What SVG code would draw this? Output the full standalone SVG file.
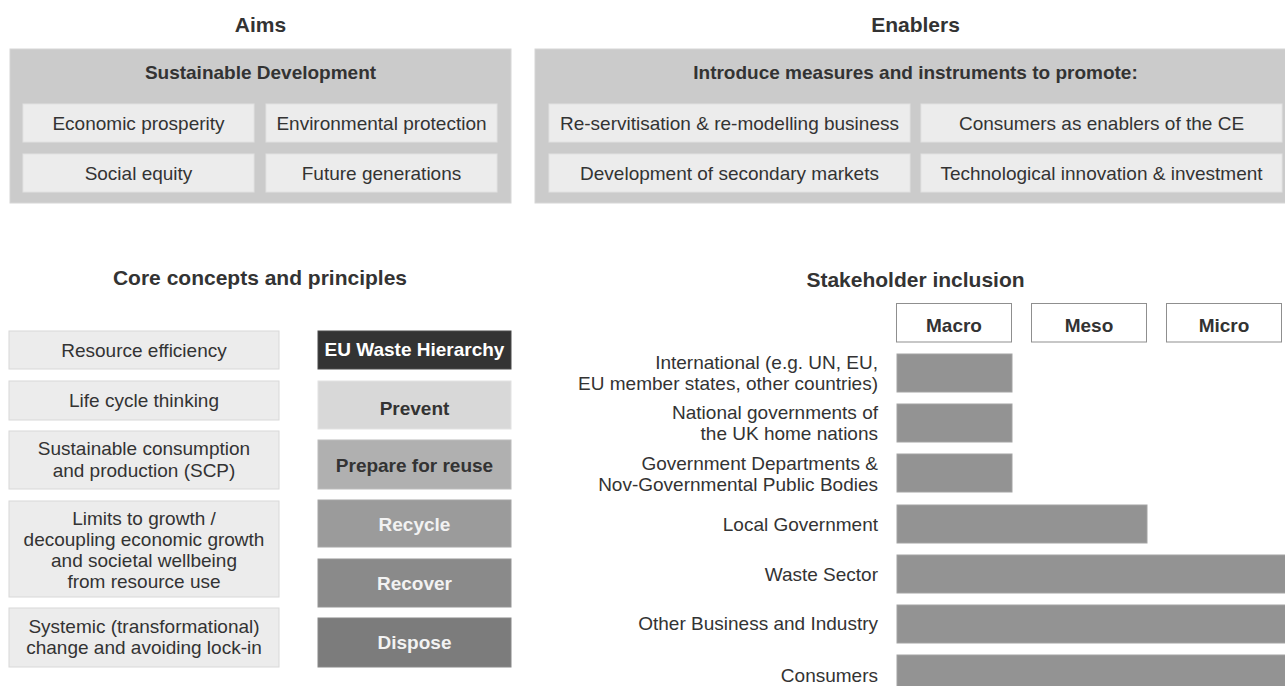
<svg xmlns="http://www.w3.org/2000/svg" width="1285" height="686" viewBox="0 0 1285 686">
<style>
text{font-family:"Liberation Sans",Arial,sans-serif;fill:#333333}
.title{font-size:21px;font-weight:bold;text-anchor:middle}
.sub{font-size:19px;font-weight:bold;text-anchor:middle}
.t{font-size:19px;text-anchor:middle}
.lbl{font-size:19px;text-anchor:end}
.panel{fill:#cbcbcb;stroke:#d6d6d6;stroke-width:1}
.cell{fill:#ececec;stroke:#e2e2e2;stroke-width:1}
.core{fill:#ececec;stroke:#d8d8d8;stroke-width:1}
.bar{fill:#939393;stroke:#a3a3a3;stroke-width:1}
.lvl{fill:#ffffff;stroke:#8f8f8f;stroke-width:1}
.wh{font-size:19px;font-weight:bold;text-anchor:middle}
.light{fill:#f2f2f2}
</style>

<!-- Aims -->
<g id="aims">
<text class="title" x="260.5" y="32">Aims</text>
<rect class="panel" x="10" y="49" width="501" height="154"/>
<text class="sub" x="260.5" y="79">Sustainable Development</text>
<g id="aim-economic"><rect class="cell" x="23" y="104" width="231" height="38"/><text class="t" x="138.5" y="129.5">Economic prosperity</text></g>
<g id="aim-environment"><rect class="cell" x="266" y="104" width="231" height="38"/><text class="t" x="381.5" y="129.5">Environmental protection</text></g>
<g id="aim-social"><rect class="cell" x="23" y="154" width="231" height="38"/><text class="t" x="138.5" y="179.5">Social equity</text></g>
<g id="aim-future"><rect class="cell" x="266" y="154" width="231" height="38"/><text class="t" x="381.5" y="179.5">Future generations</text></g>
</g>

<!-- Enablers -->
<g id="enablers">
<text class="title" x="915.5" y="32">Enablers</text>
<rect class="panel" x="535" y="49" width="761" height="154"/>
<text class="sub" x="915.5" y="79">Introduce measures and instruments to promote:</text>
<g id="en-reserv"><rect class="cell" x="549" y="104" width="361" height="38"/><text class="t" x="729.5" y="129.5">Re-servitisation &amp; re-modelling business</text></g>
<g id="en-consumers"><rect class="cell" x="921" y="104" width="361" height="38"/><text class="t" x="1101.5" y="129.5">Consumers as enablers of the CE</text></g>
<g id="en-secondary"><rect class="cell" x="549" y="154" width="361" height="38"/><text class="t" x="729.5" y="179.5">Development of secondary markets</text></g>
<g id="en-tech"><rect class="cell" x="921" y="154" width="361" height="38"/><text class="t" x="1101.5" y="179.5">Technological innovation &amp; investment</text></g>
</g>

<!-- Core concepts -->
<g id="core">
<text class="title" x="260" y="285">Core concepts and principles</text>
<g id="core-resource"><rect class="core" x="9" y="331" width="270" height="38"/><text class="t" x="144" y="356.5">Resource efficiency</text></g>
<g id="core-lifecycle"><rect class="core" x="9" y="381" width="270" height="39"/><text class="t" x="144" y="406.5">Life cycle thinking</text></g>
<g id="core-scp"><rect class="core" x="9" y="431" width="270" height="58"/><text class="t" x="144" y="455">Sustainable consumption</text><text class="t" x="144" y="476.5">and production (SCP)</text></g>
<g id="core-limits"><rect class="core" x="9" y="501" width="270" height="96"/><text class="t" x="144" y="525">Limits to growth /</text><text class="t" x="144" y="546">decoupling economic growth</text><text class="t" x="144" y="567">and societal wellbeing</text><text class="t" x="144" y="588">from resource use</text></g>
<g id="core-systemic"><rect class="core" x="9" y="608" width="270" height="59"/><text class="t" x="144" y="632.5">Systemic (transformational)</text><text class="t" x="144" y="654">change and avoiding lock-in</text></g>
</g>

<!-- EU Waste Hierarchy -->
<g id="hierarchy">
<g id="wh-title"><rect x="318" y="331" width="193" height="38" fill="#333333" stroke="#4a4a4a"/><text class="wh light" x="414.5" y="356" style="fill:#ffffff">EU Waste Hierarchy</text></g>
<g id="wh-prevent"><rect x="318" y="381" width="193" height="48" fill="#d8d8d8" stroke="#e2e2e2"/><text class="wh" x="414.5" y="414.5">Prevent</text></g>
<g id="wh-prepare"><rect x="318" y="440" width="193" height="49" fill="#b0b0b0" stroke="#bcbcbc"/><text class="wh" x="414.5" y="471.5">Prepare for reuse</text></g>
<g id="wh-recycle"><rect x="318" y="500" width="193" height="47" fill="#9b9b9b" stroke="#a6a6a6"/><text class="wh light" x="414.5" y="530.5">Recycle</text></g>
<g id="wh-recover"><rect x="318" y="559" width="193" height="48" fill="#8a8a8a" stroke="#959595"/><text class="wh light" x="414.5" y="590">Recover</text></g>
<g id="wh-dispose"><rect x="318" y="618" width="193" height="49" fill="#7c7c7c" stroke="#888888"/><text class="wh light" x="414.5" y="649">Dispose</text></g>
</g>

<!-- Stakeholder inclusion -->
<g id="stakeholders">
<text class="title" x="915.5" y="287">Stakeholder inclusion</text>
<g id="lvl-macro"><rect class="lvl" x="896.5" y="303.5" width="115" height="38.5"/><text class="sub" x="954" y="331.5">Macro</text></g>
<g id="lvl-meso"><rect class="lvl" x="1031.5" y="303.5" width="115" height="38.5"/><text class="sub" x="1089" y="331.5">Meso</text></g>
<g id="lvl-micro"><rect class="lvl" x="1166.5" y="303.5" width="115" height="38.5"/><text class="sub" x="1224" y="331.5">Micro</text></g>

<g id="sh-international"><text class="lbl" x="878" y="369">International (e.g. UN, EU,</text><text class="lbl" x="878" y="390">EU member states, other countries)</text><rect class="bar" x="897" y="354" width="115" height="38"/></g>
<g id="sh-national"><text class="lbl" x="878" y="419">National governments of</text><text class="lbl" x="878" y="440">the UK home nations</text><rect class="bar" x="897" y="404" width="115" height="38"/></g>
<g id="sh-depts"><text class="lbl" x="878" y="470">Government Departments &amp;</text><text class="lbl" x="878" y="491">Nov-Governmental Public Bodies</text><rect class="bar" x="897" y="454" width="115" height="38"/></g>
<g id="sh-local"><text class="lbl" x="878" y="530.5">Local Government</text><rect class="bar" x="897" y="505" width="250" height="38"/></g>
<g id="sh-waste"><text class="lbl" x="878" y="580.5">Waste Sector</text><rect class="bar" x="897" y="555" width="392" height="38"/></g>
<g id="sh-business"><text class="lbl" x="878" y="630">Other Business and Industry</text><rect class="bar" x="897" y="605" width="392" height="38"/></g>
<g id="sh-consumers"><text class="lbl" x="878" y="682">Consumers</text><rect class="bar" x="897" y="655" width="392" height="40"/></g>
</g>

<g id="connectors"></g>
</svg>
